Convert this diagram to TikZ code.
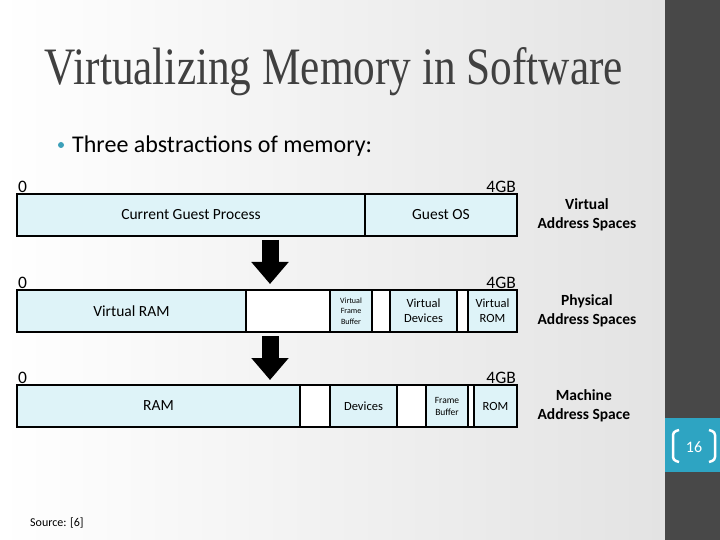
\documentclass[tikz,border=0pt]{standalone}
\usepackage{fontspec}
\setmainfont{Carlito}
\newfontfamily\titlefont{Liberation Serif}
\usetikzlibrary{positioning, arrows.meta}
\definecolor{SegBlue}{RGB}{222, 243, 248}
\definecolor{BarGray}{RGB}{72, 72, 72}
\definecolor{PageBlue}{RGB}{46, 164, 194}
\definecolor{TitleGray}{RGB}{64, 64, 64}
\definecolor{BulletTeal}{RGB}{60, 160, 185}

\begin{document}
\begin{tikzpicture}[x=1bp, y=-1bp,
  seg/.style={draw=black, line width=1.6bp, minimum height=42bp, inner sep=0pt, outer sep=0pt, align=center, font=\fontsize{15.5bp}{17bp}\selectfont},
  used/.style={seg, fill=SegBlue},
  gap/.style={seg, fill=white},
  bound/.style={inner sep=1bp, font=\fontsize{17.5bp}{19bp}\selectfont},
  space/.style={align=center, font=\bfseries\fontsize{15.5bp}{19bp}\selectfont},
  mapto/.style={line width=17bp, -{Triangle[width=36bp, length=22bp]}}
]
\useasboundingbox (0,0) rectangle (720,540);
% slide background
\shade[left color=white, middle color=white, right color=black!11] (0,0) rectangle (665,540);
\fill[BarGray] (665,0) rectangle (720,540);
\fill[PageBlue] (665,418) rectangle (720,472);
\draw[white, line width=2.5bp, rounded corners=3bp] (679,430) -- (673,432) -- (673,460) -- (679,462);
\draw[white, line width=2.5bp, rounded corners=3bp] (709,430) -- (715,432) -- (715,460) -- (709,462);
\node[white, font=\fontsize{16bp}{18bp}\selectfont] (pagenum) at (694,447) {16};

% title and bullet
\node[anchor=base, TitleGray, font=\titlefont] (title) at (334,85) {\resizebox{578bp}{37bp}{Virtualizing Memory in Software}};
\fill[BulletTeal] (61,145) circle (3bp);
\node[anchor=base west, inner sep=0pt, font=\fontsize{24bp}{28bp}\selectfont] (intro) at (72,153) {Three abstractions of memory:};

% virtual address spaces
\node[used, minimum width=348bp, anchor=north west] (cgp) at (17,194) {Current Guest Process};
\node[used, minimum width=152bp, right=0pt of cgp] (gos) {Guest OS};
\node[bound, above right] (zero1) at (cgp.north west) {0};
\node[bound, above left] (top1) at (gos.north east) {4GB};
\node[space, right=17bp of gos] (vas) {Virtual\\Address Spaces};

% physical address spaces
\node[used, minimum width=229bp, anchor=north west] (vram) at (17,290) {Virtual RAM};
\node[gap, minimum width=84bp, right=0pt of vram] (hole1) {};
\node[used, minimum width=42bp, right=0pt of hole1, font=\fontsize{8bp}{10.5bp}\selectfont] (vfb) {Virtual\\Frame\\Buffer};
\node[gap, minimum width=18bp, right=0pt of vfb] (hole2) {};
\node[used, minimum width=67bp, right=0pt of hole2, font=\fontsize{12.5bp}{15bp}\selectfont] (vdev) {Virtual\\Devices};
\node[gap, minimum width=11bp, right=0pt of vdev] (hole3) {};
\node[used, minimum width=49bp, right=0pt of hole3, font=\fontsize{12.5bp}{15bp}\selectfont] (vrom) {Virtual\\ROM};
\node[bound, above right] (zero2) at (vram.north west) {0};
\node[bound, above left] (top2) at (vrom.north east) {4GB};
\node[space, right=17bp of vrom] (pas) {Physical\\Address Spaces};

% machine address space
\node[used, minimum width=283bp, anchor=north west] (ram) at (17,385) {RAM};
\node[gap, minimum width=30bp, right=0pt of ram] (hole4) {};
\node[used, minimum width=67bp, right=0pt of hole4, font=\fontsize{12.5bp}{15bp}\selectfont] (dev) {Devices};
\node[gap, minimum width=29bp, right=0pt of dev] (hole5) {};
\node[used, minimum width=42bp, right=0pt of hole5, font=\fontsize{9.5bp}{12bp}\selectfont] (fb) {Frame\\Buffer};
\node[gap, minimum width=6bp, right=0pt of fb] (hole6) {};
\node[used, minimum width=43bp, right=0pt of hole6, font=\fontsize{12.5bp}{15bp}\selectfont] (rom) {ROM};
\node[bound, above right] (zero3) at (ram.north west) {0};
\node[bound, above left] (top3) at (rom.north east) {4GB};
\node[space, right=17bp of rom] (mas) {Machine\\Address Space};

% mappings
\coordinate (map1s) at (270,240);
\coordinate (map1e) at (270,284);
\coordinate (map2s) at (270,336);
\coordinate (map2e) at (270,380);
\draw[mapto] (map1s) -- (map1e);
\draw[mapto] (map2s) -- (map2e);

\node[anchor=base west, inner sep=0pt, font=\fontsize{12bp}{14bp}\selectfont] (src) at (30,526) {Source: [6]};
\end{tikzpicture}
\end{document}
